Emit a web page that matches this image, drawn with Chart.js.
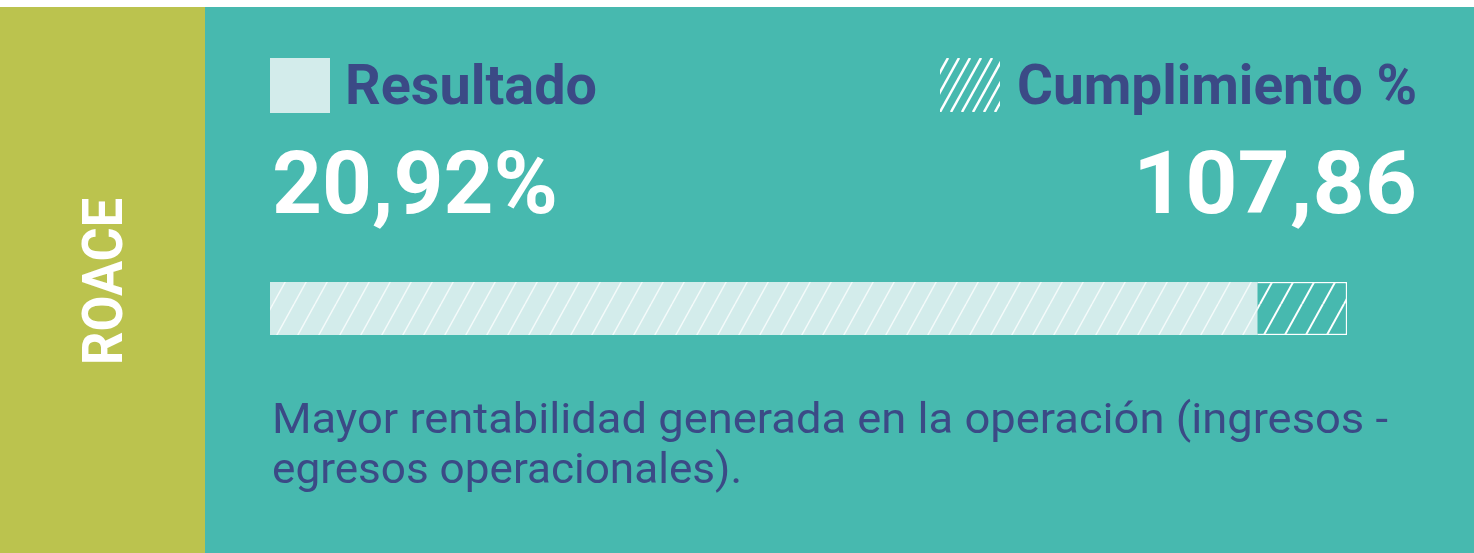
<!DOCTYPE html>
<html>
<head>
<meta charset="utf-8">
<script src="https://cdn.jsdelivr.net/npm/chart.js@4"></script>
<style>
  html, body { margin: 0; padding: 0; background: #fff; }
  #wrap { width: 1474px; height: 553px; position: relative; }
</style>
</head>
<body>
<div id="wrap"><canvas id="roace"></canvas></div>
<script>
// ── Data ──────────────────────────────────────────────────────────────────────
const categories      = ['ROACE'];
const resultadoValue  = [100];   // base bar (meta = 100 %)
const excesoValue     = [9.1];   // hatched overflow
const resultadoLabel  = '20,92%';
const cumplimientoLbl = '107,86';
const legendLabels    = ['Resultado', 'Cumplimiento %'];
const descLines       = ['Mayor rentabilidad generada en la operación (ingresos -', 'egresos operacionales).'];

const TEAL  = '#47b9af';
const OLIVE = '#bbc34e';
const LIGHT = '#d3eceb';
const NAVY  = '#3b4a86';

// ── Hatch patterns ────────────────────────────────────────────────────────────
function makeHatch(bg, stroke, lw) {
  const c = document.createElement('canvas');
  c.width = 21; c.height = 38;
  const g = c.getContext('2d');
  if (bg) { g.fillStyle = bg; g.fillRect(0, 0, 21, 38); }
  g.strokeStyle = stroke;
  g.lineWidth = lw;
  [-21, 0, 21].forEach(o => {
    g.beginPath();
    g.moveTo(o, 38);
    g.lineTo(o + 21, 0);
    g.stroke();
  });
  return g.createPattern(c, 'repeat');
}

const ctx0 = document.getElementById('roace').getContext('2d');
const lightHatch = makeHatch(LIGHT, 'rgba(255,255,255,0.75)', 1.5);
const tealHatch  = makeHatch(TEAL, '#ffffff', 2);

// ── Helpers ───────────────────────────────────────────────────────────────────
function fitText(ctx, text, x, y, width, font, color, align) {
  ctx.save();
  ctx.font = font;
  ctx.fillStyle = color;
  ctx.textBaseline = 'alphabetic';
  const w = ctx.measureText(text).width;
  const sx = width / w;
  const left = align === 'right' ? x - width : x;
  ctx.translate(left, y);
  ctx.scale(sx, 1);
  ctx.textAlign = 'left';
  ctx.fillText(text, 0, 0);
  ctx.restore();
  return sx;
}

// ── Panel background + texts ──────────────────────────────────────────────────
const panelPlugin = {
  id: 'panel',
  beforeDraw(chart) {
    const ctx = chart.ctx;
    ctx.save();
    ctx.fillStyle = '#ffffff';
    ctx.fillRect(0, 0, 1474, 553);
    ctx.fillStyle = OLIVE;
    ctx.fillRect(0, 7, 205, 546);
    ctx.fillStyle = TEAL;
    ctx.fillRect(205, 7, 1269, 546);
    ctx.restore();
  },
  afterDraw(chart) {
    const ctx = chart.ctx;
    const bold = 'bold 56px Roboto';

    // vertical category label
    ctx.save();
    ctx.translate(122, 365);
    ctx.rotate(-Math.PI / 2);
    fitText(ctx, categories[0], 0, 0, 167, bold, '#ffffff', 'left');
    ctx.restore();

    // legend: Resultado
    ctx.fillStyle = LIGHT;
    ctx.fillRect(270, 58, 60, 55);
    fitText(ctx, legendLabels[0], 345, 104, 252, 'bold 55px Roboto', NAVY, 'left');

    // legend: Cumplimiento (hatched icon)
    ctx.save();
    ctx.beginPath();
    ctx.rect(940, 58, 60, 54);
    ctx.clip();
    ctx.strokeStyle = '#ffffff';
    ctx.lineWidth = 2.5;
    for (let x = 918; x < 1030; x += 11) {
      ctx.beginPath();
      ctx.moveTo(x, 112);
      ctx.lineTo(x + 30, 58);
      ctx.stroke();
    }
    ctx.restore();
    fitText(ctx, legendLabels[1], 1417, 104, 400, 'bold 55px Roboto', NAVY, 'right');

    // big values
    fitText(ctx, resultadoLabel, 272, 213, 286, 'bold 88px Roboto', '#ffffff', 'left');
    fitText(ctx, cumplimientoLbl, 1417, 213, 284, 'bold 88px Roboto', '#ffffff', 'right');

    // description
    fitText(ctx, descLines[0], 272, 433, 1116, '42px Roboto', NAVY, 'left');
    fitText(ctx, descLines[1], 272, 483, 470, '42px Roboto', NAVY, 'left');
  }
};

// ── Chart ─────────────────────────────────────────────────────────────────────
new Chart(ctx0, {
  type: 'bar',
  data: {
    labels: categories,
    datasets: [
      {
        label: legendLabels[0],
        data: resultadoValue,
        backgroundColor: lightHatch,
        borderWidth: 0,
      },
      {
        label: legendLabels[1],
        data: excesoValue,
        backgroundColor: tealHatch,
        borderColor: '#ffffff',
        borderWidth: 1.5,
      }
    ]
  },
  options: {
    indexAxis: 'y',
    responsive: true,
    maintainAspectRatio: false,
    animation: false,
    layout: { padding: { left: 270, right: 127, top: 282, bottom: 218 } },
    datasets: { bar: { barPercentage: 1, categoryPercentage: 1 } },
    plugins: { legend: { display: false }, tooltip: { enabled: false } },
    scales: {
      x: { stacked: true, display: false, min: 0, max: resultadoValue[0] + excesoValue[0] },
      y: { stacked: true, display: false }
    }
  },
  plugins: [panelPlugin]
});
</script>
</body>
</html>
